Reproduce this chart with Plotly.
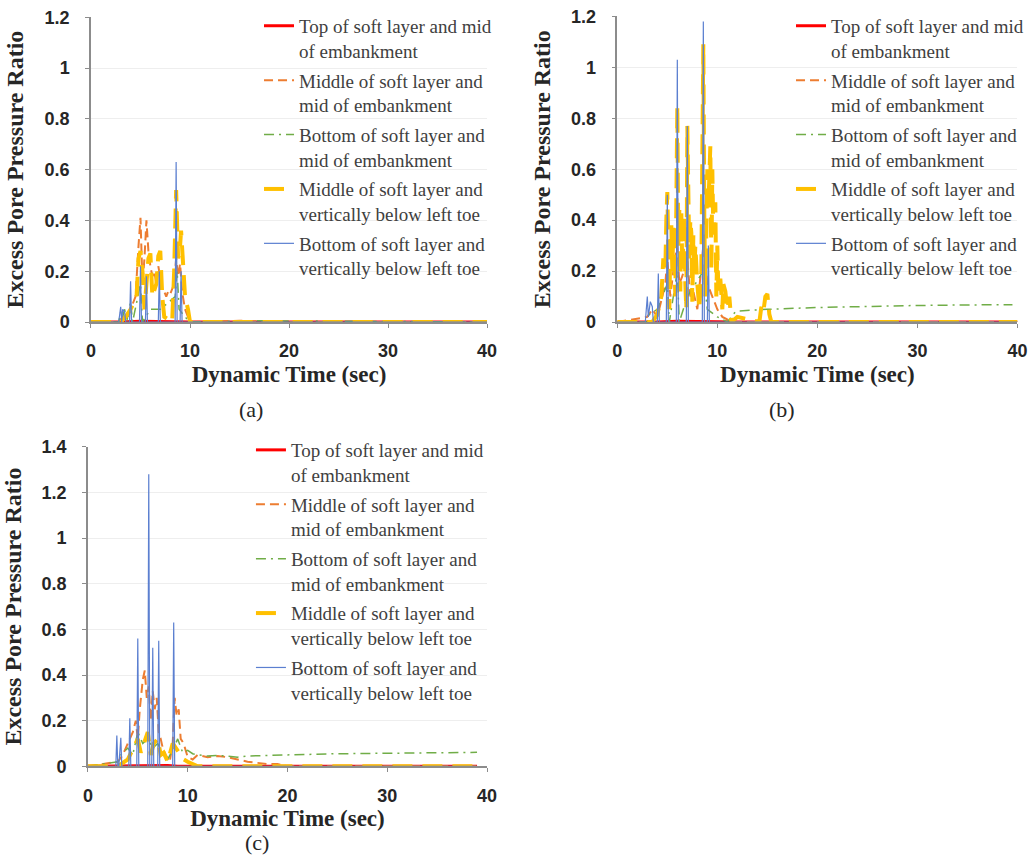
import plotly.graph_objects as go

# ---------------------------------------------------------------------------
# Excess pore pressure ratio time histories, three cases (a), (b), (c)
# ---------------------------------------------------------------------------
series_names = [
    "Top of soft layer and mid<br>of embankment",
    "Middle of soft layer and<br>mid of embankment",
    "Bottom of soft layer and<br>mid of embankment",
    "Middle of soft layer and<br>vertically below left toe",
    "Bottom of soft layer and<br>vertically below left toe",
]

# ---- case (a) ----
a_top_t = [0, 3, 5, 8, 10, 40]
a_top_v = [0, 0, 0.003, 0.002, 0, 0]

a_midmid_t = [0, 2.8, 3.2, 3.6, 4.0, 4.5, 4.8, 5.0, 5.2, 5.4, 5.6, 5.8, 6.0, 6.2, 6.4, 6.6,
              6.8, 7.0, 7.2, 7.4, 7.6, 7.8, 8.0, 8.2, 8.4, 8.6, 8.8, 9.0, 9.2, 9.5, 9.8,
              10.2, 15, 20, 30, 40]
a_midmid_v = [0, 0, 0.02, 0.01, 0.05, 0.1, 0.3, 0.41, 0.15, 0.25, 0.40, 0.28, 0.22, 0.18, 0.2, 0.15,
              0.22, 0.17, 0.13, 0.12, 0.1, 0.12, 0.11, 0.13, 0.15, 0.25, 0.18, 0.23, 0.12, 0.05, 0.02,
              0, 0.005, 0, 0, 0]

a_botmid_t = [0, 2.8, 3.0, 3.2, 3.4, 3.6, 4.0, 4.2, 5.0, 5.2, 6.0, 7.0, 8.5, 8.7, 8.9, 9.5, 10, 16, 40]
a_botmid_v = [0, 0, 0.04, 0.02, 0.05, 0, 0.08, 0, 0.15, 0, 0.05, 0.05, 0.1, 0.2, 0.05, 0.02, 0, 0.005, 0]

a_midtoe_t = [0, 3.0, 3.5, 4.0, 4.6, 4.8, 5.0, 5.2, 5.4, 5.6, 5.8, 6.0, 6.2, 6.6, 6.8, 7.0, 7.2,
              7.4, 8.2, 8.4, 8.6, 8.8, 9.0, 9.1, 9.3, 9.5, 9.8, 10.0, 40]
a_midtoe_v = [0, 0, 0.02, 0.05, 0.1, 0.25, 0.28, 0.2, 0.05, 0.15, 0.25, 0.27, 0.1, 0.15, 0.26, 0.28, 0.1,
              0.02, 0, 0.2, 0.52, 0.25, 0.3, 0.36, 0.22, 0.1, 0.05, 0, 0]

a_bottoe_t = [0, 2.8, 3.0, 3.1, 3.2, 3.4, 3.5, 3.9, 4.0, 4.1, 4.9, 5.0, 5.1, 5.5, 5.6, 5.7, 6.8,
              6.9, 7.0, 8.5, 8.6, 8.7, 9.0, 9.1, 9.2, 10, 40]
a_bottoe_v = [0, 0, 0.06, 0, 0.05, 0.04, 0, 0, 0.16, 0, 0, 0.22, 0, 0, 0.18, 0, 0,
              0.2, 0, 0, 0.63, 0, 0, 0.2, 0, 0, 0]

# ---- case (b) ----
b_top_t = [0, 4, 6, 9, 12, 40]
b_top_v = [0, 0, 0.003, 0.002, 0, 0]

b_midmid_t = [0, 3.0, 3.5, 4.0, 4.5, 4.8, 5.0, 5.3, 5.6, 6.0, 6.2, 6.5, 7.0, 7.3, 7.6, 8.0, 8.6,
              9.0, 9.5, 10, 10.5, 11, 12, 40]
b_midmid_v = [0, 0.02, 0.05, 0.02, 0.1, 0.15, 0.25, 0.1, 0.2, 0.3, 0.15, 0.18, 0.25, 0.1, 0.12, 0.05, 0.3,
              0.15, 0.1, 0.05, 0.02, 0.01, 0, 0]

b_botmid_t = [0, 3, 3.2, 4.0, 5.0, 5.2, 6.0, 6.2, 7.0, 8.6, 9.0, 10, 11, 11.8, 12, 15, 20, 25, 30, 35, 39.5]
b_botmid_v = [0, 0, 0.03, 0.05, 0.15, 0, 0.2, 0, 0.1, 0.2, 0.05, 0.02, 0.0, 0.04, 0.043, 0.05, 0.057,
              0.062, 0.065, 0.067, 0.068]

b_midtoe_t = [0, 3.5, 4.0, 4.4, 4.6, 4.8, 4.9, 5.0, 5.1, 5.2, 5.3, 5.4, 5.5, 5.6, 5.7, 5.8, 5.9, 6.0,
              6.1, 6.2, 6.3, 6.4, 6.5, 6.6, 6.7, 6.8, 6.9, 7.0, 7.1, 7.2, 7.3, 7.4, 7.5, 7.6, 7.7,
              7.8, 8.0, 8.2, 8.4, 8.5, 8.6, 8.7, 8.8, 9.0, 9.1, 9.3, 9.4, 9.5, 9.6, 9.8, 9.9, 10.0,
              10.1, 10.3, 10.5, 10.6, 10.8, 11.0, 11.2, 11.4, 12.0, 14.2, 14.4, 14.6, 14.8, 15.0,
              15.2, 15.4, 40]
b_midtoe_v = [0, 0, 0.03, 0.1, 0.25, 0.2, 0.4, 0.51, 0.3, 0.05, 0.3, 0.38, 0.2, 0.37, 0.25, 0.1, 0.45, 0.85,
              0.3, 0.44, 0.12, 0.43, 0.2, 0.3, 0.42, 0.15, 0.05, 0.77, 0.36, 0.25, 0.4, 0.35, 0.08, 0.34, 0.2,
              0.3, 0.15, 0.05, 0.2, 0.6, 1.09, 0.4, 0.1, 0.6, 0.45, 0.69, 0.2, 0.6, 0.35, 0.47, 0.1, 0.3,
              0.12, 0.17, 0.05, 0.15, 0.12, 0.05, 0.1, 0, 0.02, 0, 0.06, 0.04, 0.1, 0.11,
              0.03, 0, 0]

b_bottoe_t = [0, 2.8, 3.0, 3.1, 3.3, 3.5, 3.6, 4.0, 4.1, 4.2, 4.9, 5.0, 5.1, 5.9, 6.0, 6.1, 6.9,
              7.0, 7.1, 8.5, 8.6, 8.7, 9.0, 9.1, 9.2, 10, 40]
b_bottoe_v = [0, 0, 0.1, 0.02, 0.08, 0.06, 0, 0, 0.19, 0, 0, 0.5, 0, 0, 1.03, 0, 0,
              0.77, 0, 0, 1.18, 0, 0, 0.3, 0, 0, 0]

# ---- case (c) ----
c_top_t = [0, 8, 9, 39]
c_top_v = [0, 0.003, 0, 0]

c_midmid_t = [0, 3.0, 3.5, 4.0, 4.5, 4.8, 5.0, 5.2, 5.5, 5.7, 5.9, 6.1, 6.3, 6.5, 6.7, 6.9, 7.1,
              7.3, 7.5, 7.8, 8.2, 8.5, 8.7, 8.9, 9.1, 9.3, 9.6, 10, 10.5, 11, 12, 13, 14, 15, 16,
              17, 18, 19, 20, 39]
c_midmid_v = [0, 0.02, 0.05, 0.1, 0.15, 0.2, 0.12, 0.25, 0.38, 0.42, 0.3, 0.35, 0.2, 0.33, 0.25, 0.3, 0.15,
              0.12, 0.08, 0.05, 0.02, 0.1, 0.3, 0.22, 0.25, 0.12, 0.1, 0.04, 0.03, 0.05, 0.04, 0.045, 0.04,
              0.03, 0.02, 0.015, 0.01, 0.01, 0, 0]

c_botmid_t = [0, 3.0, 3.3, 4.0, 4.5, 5.0, 5.5, 6.0, 6.5, 7.0, 7.5, 8.0, 8.6, 9.0, 9.5, 10, 10.5, 11,
              12, 13, 14, 15, 16, 18, 20, 25, 30, 35, 39]
c_botmid_v = [0, 0.02, 0.05, 0.08, 0.05, 0.15, 0.1, 0.12, 0.08, 0.1, 0.05, 0.03, 0.08, 0.12, 0.06, 0.07,
              0.055, 0.05, 0.045, 0.047, 0.045, 0.04, 0.045, 0.048, 0.05, 0.055, 0.058, 0.06, 0.061]

c_midtoe_t = [0, 3.0, 4.0, 4.5, 5.0, 5.3, 5.6, 6.0, 6.3, 6.6, 7.0, 7.3, 7.6, 8.0, 8.5, 8.8, 9.2,
              9.6, 10, 10.5, 11, 39]
c_midtoe_v = [0, 0, 0.03, 0.08, 0.12, 0.06, 0.1, 0.15, 0.05, 0.1, 0.12, 0.05, 0.06, 0.02, 0.1, 0.08, 0.05,
              0.03, 0.02, 0.01, 0, 0]

c_bottoe_t = [0, 2.8, 2.9, 3.0, 3.1, 3.3, 3.4, 3.5, 4.1, 4.2, 4.3, 4.9, 5.0, 5.1, 6.0, 6.1, 6.2,
              6.4, 6.5, 6.6, 7.0, 7.1, 7.2, 8.5, 8.6, 8.7, 9.5, 39]
c_bottoe_v = [0, 0, 0.135, 0, 0.0, 0.125, 0, 0, 0, 0.21, 0, 0, 0.56, 0, 0, 1.28, 0,
              0, 0.52, 0, 0, 0.55, 0, 0, 0.63, 0, 0, 0]

x_ticks = [0, 10, 20, 30, 40]

# line styles for the five measuring points
styles = [
    dict(color="#FF0000", width=3, dash="solid"),
    dict(color="#ED7D31", width=2, dash="9px,5px"),
    dict(color="#70AD47", width=1.5, dash="10px,5px,2px,5px"),
    dict(color="#FFC000", width=4, dash="20px,10px"),
    dict(color="#5B7FD0", width=1.2, dash="solid"),
]

panels = [
    dict(key="", leg="legend",
         data=[(a_top_t, a_top_v), (a_midmid_t, a_midmid_v), (a_botmid_t, a_botmid_v),
               (a_midtoe_t, a_midtoe_v), (a_bottoe_t, a_bottoe_v)],
         xdom=[0.088, 0.471], ydom=[0.626, 0.980], ymax=1.2, xstand=6,
         legx=0.2505, legy=0.992, cap="(a)", capx=0.243, capy=0.524),
    dict(key="2", leg="legend2",
         data=[(b_top_t, b_top_v), (b_midmid_t, b_midmid_v), (b_botmid_t, b_botmid_v),
               (b_midtoe_t, b_midtoe_v), (b_bottoe_t, b_bottoe_v)],
         xdom=[0.597, 0.984], ydom=[0.626, 0.981], ymax=1.2, xstand=6,
         legx=0.765, legy=0.992, cap="(b)", capx=0.756, capy=0.524),
    dict(key="3", leg="legend3",
         data=[(c_top_t, c_top_v), (c_midmid_t, c_midmid_v), (c_botmid_t, c_botmid_v),
               (c_midtoe_t, c_midtoe_v), (c_bottoe_t, c_bottoe_v)],
         xdom=[0.085, 0.471], ydom=[0.110, 0.481], ymax=1.4, xstand=0,
         legx=0.2427, legy=0.4994, cap="(c)", capx=0.249, capy=0.021),
]

fig = go.Figure()

tick_font = dict(family="Liberation Sans", size=18, color="#262626", weight="bold")
xtitle_font = dict(family="Liberation Serif", size=23, color="#262626", weight="bold")
ytitle_font = dict(family="Liberation Serif", size=24, color="#262626", weight="bold")
legend_font = dict(family="Liberation Serif", size=19, color="#404040")

layout_extra = {}
for p in panels:
    k = p["key"]
    for i, ((t, v), st, nm) in enumerate(zip(p["data"], styles, series_names)):
        fig.add_trace(go.Scatter(
            x=t, y=v, mode="lines", name=nm, line=st,
            xaxis="x" + k, yaxis="y" + k, legend=p["leg"], legendgroup=p["leg"] + str(i),
        ))
    layout_extra["xaxis" + k] = dict(
        domain=p["xdom"], anchor="y" + k, range=[0, 40], tickvals=x_ticks,
        showline=True, linecolor="#8c8c8c", linewidth=1.5, ticks="outside", ticklen=4,
        tickcolor="#8c8c8c", showgrid=False, zeroline=False, tickfont=tick_font,
        ticklabelstandoff=8, automargin=False,
        title=dict(text="Dynamic Time (sec)", font=xtitle_font, standoff=p["xstand"]),
    )
    layout_extra["yaxis" + k] = dict(
        domain=p["ydom"], anchor="x" + k, range=[0, p["ymax"]], dtick=0.2,
        showline=True, linecolor="#8c8c8c", linewidth=1.5, ticks="outside", ticklen=4,
        tickcolor="#8c8c8c", showgrid=True, gridcolor="#eeeeee", zeroline=False,
        tickfont=tick_font, ticklabelstandoff=12, automargin=False,
        title=dict(text="Excess Pore Pressure Ratio", font=ytitle_font, standoff=14),
    )
    layout_extra[p["leg"]] = dict(
        x=p["legx"], y=p["legy"], xanchor="left", yanchor="top",
        bgcolor="rgba(0,0,0,0)", font=legend_font, valign="top", tracegroupgap=2,
    )
    fig.add_annotation(text=p["cap"], xref="paper", yref="paper", x=p["capx"], y=p["capy"],
                       xanchor="center", yanchor="middle", showarrow=False,
                       font=dict(family="Liberation Serif", size=22, color="#262626"))

fig.update_layout(
    width=1034, height=861, margin=dict(l=0, r=0, t=0, b=0),
    paper_bgcolor="white", plot_bgcolor="white", showlegend=True,
    **layout_extra,
)

fig.write_html("out.html")
